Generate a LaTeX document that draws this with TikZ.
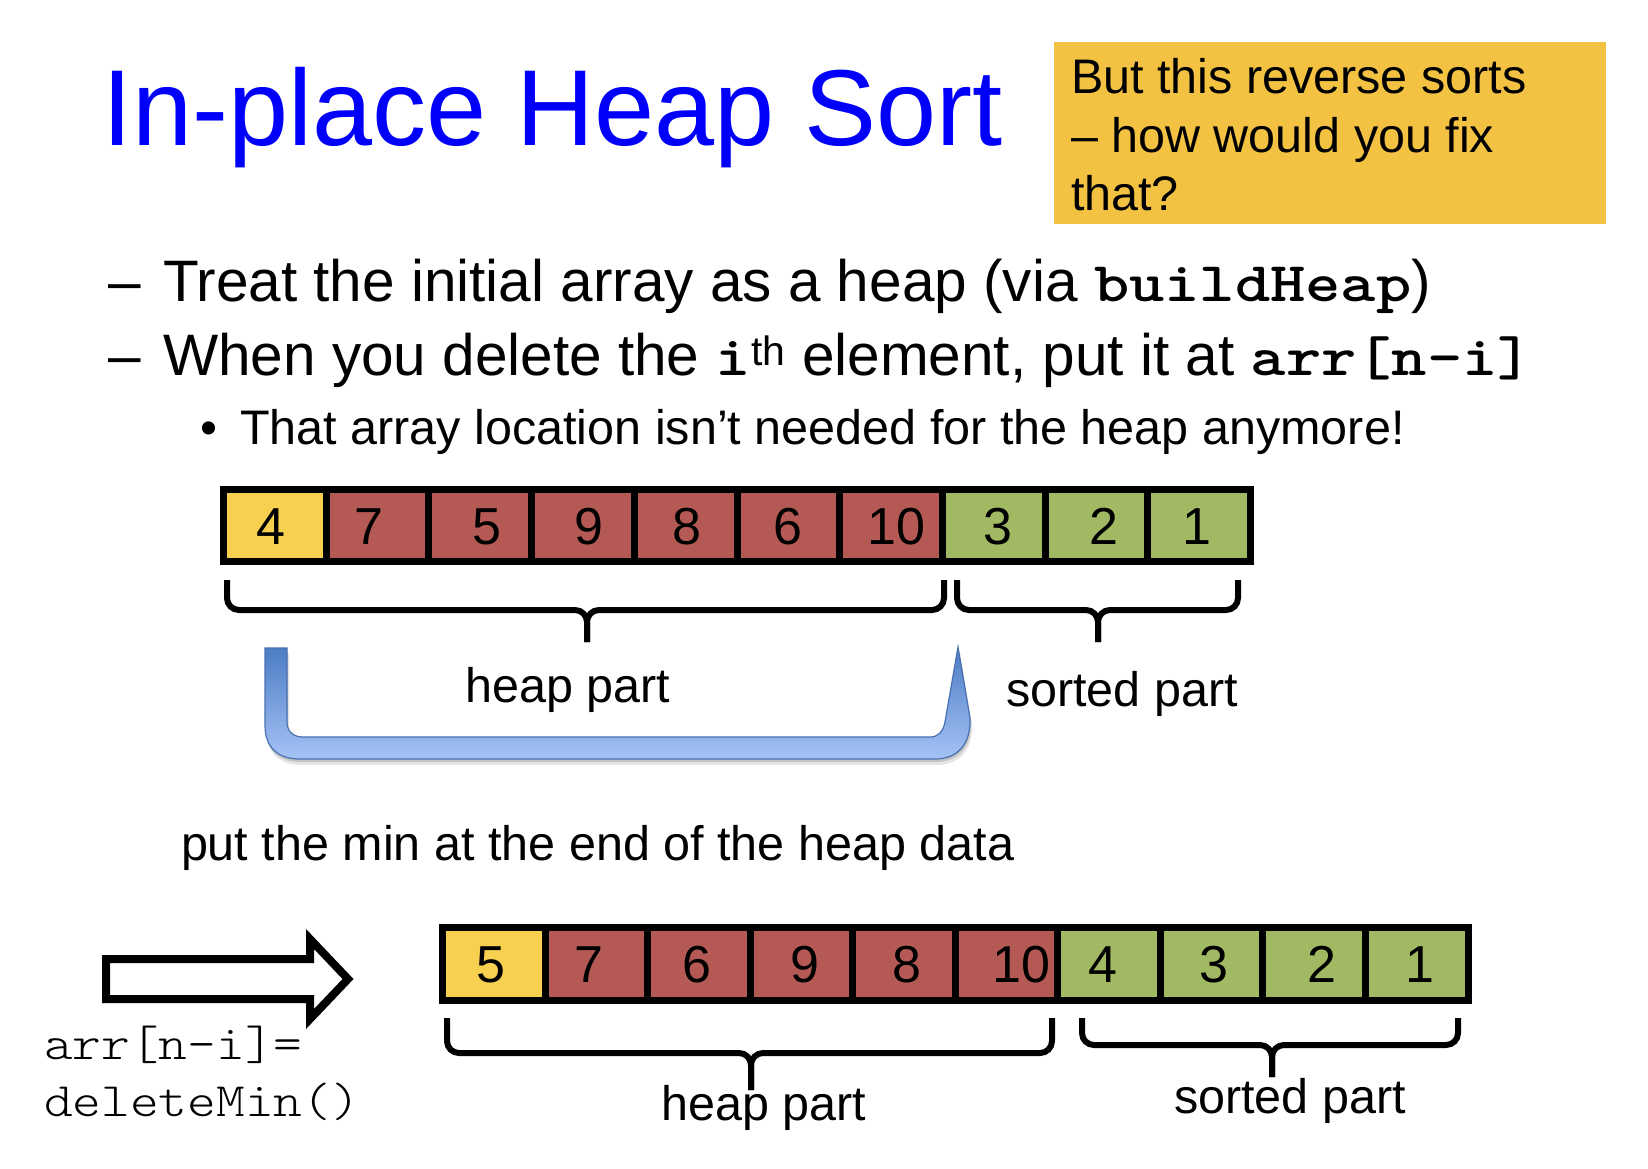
\documentclass[tikz,border=0pt]{standalone}
\usepackage{fontspec}
\setmainfont{Liberation Sans}
\newfontfamily\codelight[FakeStretch=1.14]{lmmonolt10-regular.otf}
\newfontfamily\codebold[FakeStretch=1.2]{lmmonolt10-bold.otf}
\newcommand\code[1]{{\codebold\fontsize{56}{70}\selectfont #1}}
\definecolor{titleblue}{RGB}{0,0,250}
\definecolor{boxorange}{RGB}{243,194,66}
\definecolor{cellyellow}{RGB}{247,208,80}
\definecolor{cellred}{RGB}{180,89,84}
\definecolor{cellgreen}{RGB}{161,185,98}
\definecolor{arrowtop}{RGB}{76,124,196}
\definecolor{arrowbot}{RGB}{165,195,246}
\definecolor{arrowedge}{RGB}{72,112,178}
\begin{document}
\begin{tikzpicture}[x=1pt,y=-1pt,
  every node/.style={inner sep=0pt,outer sep=0pt},
  bodytext/.style={anchor=base west,font=\fontsize{58.5}{70}\selectfont},
  smalltext/.style={anchor=base west,font=\fontsize{48.5}{58}\selectfont},
  partlabel/.style={anchor=base,font=\fontsize{48.5}{58}\selectfont},
  codetext/.style={anchor=base west,font=\codelight\fontsize{48}{56}\selectfont},
  cell/.style={draw=black,line width=7pt,minimum width=102.7pt,minimum height=72.5pt},
  num/.style={text height=37.5pt,text depth=0pt,font=\fontsize{52}{60}\selectfont},
  bracket/.style={line width=6pt,rounded corners=12pt},
  uturn/.style={insert path={(265,648) -- (265,725) .. controls (265,748) and (278,759) .. (300,759)
     -- (935,759) .. controls (957,759) and (971,745) .. (970,718) -- (958,647)
     -- (945,722) .. controls (943,732) and (938,737) .. (930,737)
     -- (303,737) .. controls (293,737) and (287,731) .. (287,722) -- (287,648) -- cycle}},
  bigarrow/.style={draw=black,fill=white,line width=8pt,miter limit=10}
]
\useasboundingbox (0,0) rectangle (1648,1168);
\fill[white] (0,0) rectangle (1648,1168);

% title and question box
\node[anchor=base west,text=titleblue,font=\fontsize{108}{120}\selectfont] (title) at (102,145) {In-place Heap Sort};
\node[fill=boxorange,anchor=north west,minimum width=552pt,minimum height=182pt] (qbox) at (1054,42) {};
\node[smalltext] (q1) at (1071,93) {But this reverse sorts};
\node[smalltext] (q2) at (1071,152) {– how would you fix};
\node[smalltext] (q3) at (1071,210) {that?};

% bullet points
\node[bodytext] (d1) at (108,301) {–};
\node[bodytext] (b1) at (163,301) {Treat the initial array as a heap (via \code{buildHeap})};
\node[bodytext] (d2) at (108,375) {–};
\node[bodytext] (b2) at (163,375) {When you delete the \code{i}\textsuperscript{th} element, put it at \code{arr[n-i]}};
\node[smalltext] (d3) at (200,444) {•};
\node[smalltext] (b3) at (240,444) {That array location isn’t needed for the heap anymore!};

% upper array
\foreach \v/\c/\dx [count=\i] in {4/cellyellow/-4,7/cellred/-9,5/cellred/7,9/cellred/6,8/cellred/1,
    6/cellred/0,10/cellred/5,3/cellgreen/4,2/cellgreen/7,1/cellgreen/-2}{
  \node[cell,fill=\c] (t\i) at ({223.5+102.7*(\i-0.5)},525.25) {};
  \node[num,xshift=\dx pt] (tn\i) at (t\i.center) {\v};
}
\draw[bracket] (227,580) -- (227,610) -- (587,610) -- (587,642);
\draw[bracket] (944,580) -- (944,610) -- (587,610) -- (587,642);
\draw[bracket] (957,580) -- (957,610) -- (1098,610) -- (1098,642);
\draw[bracket] (1238,580) -- (1238,610) -- (1098,610) -- (1098,642);
\node[partlabel] (th) at (568,702) {heap part};
\node[partlabel] (ts) at (1122,706) {sorted part};

% bent arrow below the heap part
\fill[black,opacity=0.10,shift={(2,6)},uturn];
\fill[black,opacity=0.14,shift={(1,3)},uturn];
\shadedraw[top color=arrowtop,bottom color=arrowbot,draw=arrowedge,line width=1.2pt,uturn];

\node[smalltext] (note) at (181,860) {put the min at the end of the heap data};

% lower array
\foreach \v/\c/\dx [count=\i] in {5/cellyellow/-3,7/cellred/-8,6/cellred/-2,9/cellred/3,8/cellred/3,
    10/cellred/15,4/cellgreen/-6,3/cellgreen/2,2/cellgreen/8,1/cellgreen/3}{
  \node[cell,fill=\c] (u\i) at ({443+102.5*(\i-0.5)},964) {};
  \node[num,xshift=\dx pt] (un\i) at (u\i.center) {\v};
}
\draw[bracket] (447,1018) -- (447,1053) -- (751,1053) -- (751,1090);
\draw[bracket] (1052,1018) -- (1052,1053) -- (751,1053) -- (751,1090);
\draw[bracket] (1082,1018) -- (1082,1045) -- (1272,1045) -- (1272,1077);
\draw[bracket] (1458,1018) -- (1458,1045) -- (1272,1045) -- (1272,1077);
\node[partlabel] (uh) at (764,1120) {heap part};
\node[partlabel] (us) at (1290,1113) {sorted part};

% hollow arrow and the statement it stands for
\draw[bigarrow] (106,959) -- (310,959) -- (310,939) -- (348,979) -- (310,1019) -- (310,999) -- (106,999) -- cycle;
\node[codetext] (c1) at (44,1059) {arr[n-i]=};
\node[codetext] (c2) at (44,1116) {deleteMin()};
\end{tikzpicture}
\end{document}
